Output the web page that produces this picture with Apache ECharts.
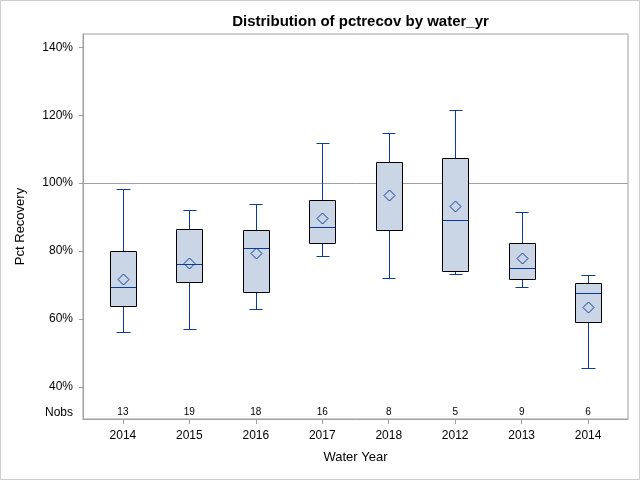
<!DOCTYPE html>
<html>
<head>
<meta charset="utf-8">
<script src="https://cdn.jsdelivr.net/npm/echarts@6/dist/echarts.min.js"></script>
<style>
html,body{margin:0;padding:0;background:#fff;}
#chart{width:640px;height:480px;}
</style>
</head>
<body>
<div id="chart"></div>
<script>
// ---- data ----
var categories  = ['2014', '2015', '2016', '2017', '2018', '2012', '2013', '2014'];
var lowWhisker  = [56.2, 57.1, 62.9, 78.6, 72.1, 73.3, 69.4, 45.6];
var q1          = [63.8, 71.0, 67.9, 82.4, 86.2, 74.1, 71.8, 59.2];
var median      = [69.4, 76.3, 80.9, 87.1, 86.2, 89.1, 74.9, 67.6];
var q3          = [79.9, 86.4, 86.2, 95.0, 106.2, 107.5, 82.5, 70.5];
var highWhisker = [98.2, 92.1, 93.8, 111.8, 114.9, 121.6, 91.4, 72.9];
var mean        = [71.8, 76.5, 79.4, 89.8, 96.5, 93.2, 77.9, 63.7];
var nobs        = [13, 19, 18, 16, 8, 5, 9, 6];
var yTicks      = [40, 60, 80, 100, 120, 140];
var refValue    = 100;

// ---- layout / style config ----
var Y_MIN = 30.6, Y_MAX = 143.9, NOBS_ROW = 32.5;
var X_MIN = -0.6, X_MAX = categories.length - 1 + 0.6;
var FONT = '"Liberation Sans", Arial, sans-serif';
var BOX_FILL = '#cad5e5', BOX_EDGE = '#000000', BLUE = '#0a3a9a', FRAME = '#a0a0a0';

var rows = categories.map(function (c, i) {
  return [i, lowWhisker[i], q1[i], median[i], q3[i], highWhisker[i], mean[i], nobs[i]];
});
var xIdx = categories.map(function (c, i) { return i; });

function px(v) { return Math.round(v) + 0.5; }

function renderBox(params, api) {
  var i = api.value(0);
  var xc = api.coord([i, 0])[0];
  var band = api.size([1, 0])[0];
  var bw = band * 0.395, cw = band * 0.2, dm = 5.5;
  var Y = function (v) { return px(api.coord([i, v])[1]); };
  var xm = px(xc), x0 = px(xc - bw / 2), x1 = px(xc + bw / 2);
  var c0 = px(xc - cw / 2), c1 = px(xc + cw / 2);
  var yLo = Y(api.value(1)), yQ1 = Y(api.value(2)), yMed = Y(api.value(3)),
      yQ3 = Y(api.value(4)), yHi = Y(api.value(5));
  var meanPt = api.coord([i, api.value(6)]);
  var my = Math.round(meanPt[1]) + 0.5;
  var nobsPt = api.coord([i, NOBS_ROW]);
  var line = function (xa, ya, xb, yb, col) {
    return { type: 'line', shape: { x1: xa, y1: ya, x2: xb, y2: yb },
      style: { stroke: col, lineWidth: 1 } };
  };
  return {
    type: 'group',
    children: [
      line(xm, yHi, xm, yQ3, BLUE),
      line(xm, yQ1, xm, yLo, BLUE),
      line(c0, yHi, c1, yHi, BLUE),
      line(c0, yLo, c1, yLo, BLUE),
      { type: 'rect', shape: { x: x0, y: yQ3, width: x1 - x0, height: yQ1 - yQ3 },
        style: { fill: BOX_FILL, stroke: null } },
      line(x0, yMed, x1, yMed, BLUE),
      { type: 'polygon', shape: { points: [[xm, my - dm], [xm + dm, my], [xm, my + dm], [xm - dm, my]] },
        style: { fill: null, stroke: BLUE, lineWidth: 1 } },
      { type: 'rect', shape: { x: x0, y: yQ3, width: x1 - x0, height: yQ1 - yQ3 },
        style: { fill: null, stroke: BOX_EDGE, lineWidth: 1 } },
      { type: 'text', x: xc, y: nobsPt[1],
        style: { text: String(api.value(7)), fill: '#000', font: '10px ' + FONT,
          align: 'center', verticalAlign: 'middle' } }
    ]
  };
}

var chart = echarts.init(document.getElementById('chart'), null, { renderer: 'canvas' });
chart.setOption({
  animation: false,
  backgroundColor: '#fff',
  title: {
    text: 'Distribution of pctrecov by water_yr',
    left: 355.5, textAlign: 'center', top: 9,
    textStyle: { fontFamily: FONT, fontSize: 15, fontWeight: 'bold', color: '#000' }
  },
  graphic: [{
    type: 'rect', silent: true,
    shape: { x: 0.5, y: 0.5, width: 639, height: 479 },
    style: { fill: null, stroke: '#cfcfcf', lineWidth: 1 }
  }],
  grid: { left: 83, top: 34, right: 12, bottom: 61, show: true,
    borderColor: FRAME, borderWidth: 1, backgroundColor: '#fff' },
  xAxis: {
    type: 'value', min: X_MIN, max: X_MAX,
    name: 'Water Year', nameLocation: 'middle', nameGap: 32,
    nameTextStyle: { fontFamily: FONT, fontSize: 13, color: '#000' },
    axisLine: { show: true, onZero: false, lineStyle: { color: FRAME } },
    axisTick: { show: true, length: 5, customValues: xIdx, lineStyle: { color: FRAME } },
    axisLabel: { customValues: xIdx, margin: 11, fontFamily: FONT, fontSize: 12, color: '#000',
      formatter: function (v) { return categories[Math.round(v)]; } },
    splitLine: { show: false }
  },
  yAxis: {
    type: 'value', min: Y_MIN, max: Y_MAX,
    name: 'Pct Recovery', nameLocation: 'middle', nameGap: 56,
    nameTextStyle: { fontFamily: FONT, fontSize: 13, color: '#000' },
    axisLine: { show: true, onZero: false, lineStyle: { color: FRAME } },
    axisTick: { show: true, length: 4, customValues: yTicks, lineStyle: { color: FRAME } },
    axisLabel: { customValues: [NOBS_ROW].concat(yTicks), margin: 10, fontFamily: FONT, fontSize: 12, color: '#000',
      formatter: function (v) { return v === NOBS_ROW ? 'Nobs' : v + '%'; } },
    splitLine: { show: false }
  },
  series: [
    {
      type: 'scatter', data: [], z: 1, silent: true,
      markLine: {
        silent: true, symbol: 'none', animation: false,
        label: { show: false },
        lineStyle: { color: FRAME, type: 'solid', width: 1 },
        data: [{ yAxis: refValue }]
      }
    },
    {
      type: 'custom', z: 5, silent: true,
      data: rows,
      encode: { x: 0, y: [1, 2, 3, 4, 5] },
      renderItem: renderBox
    }
  ]
});
</script>
</body>
</html>
